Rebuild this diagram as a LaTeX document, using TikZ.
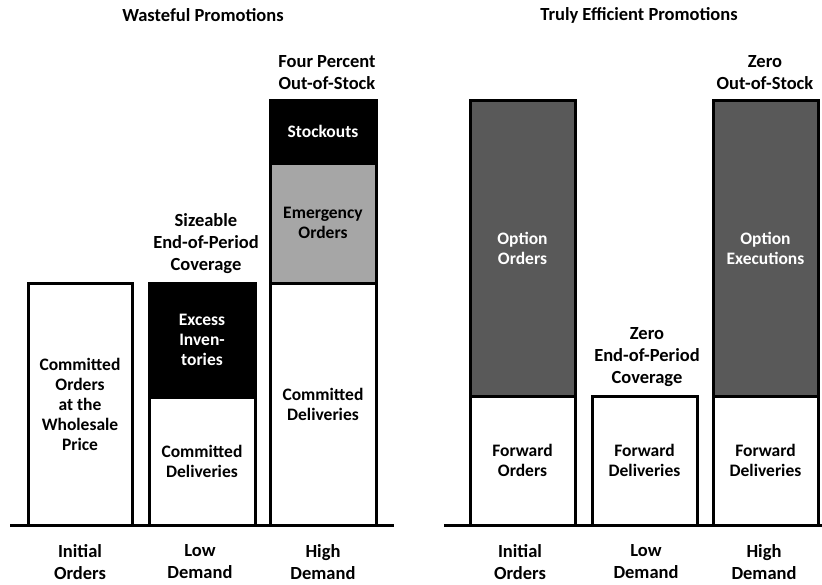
\documentclass[tikz,border=0pt]{standalone}
\usepackage{fontspec}
\setmainfont{Carlito}
\definecolor{midgray}{HTML}{A6A6A6}
\definecolor{darkgray}{HTML}{595959}
\tikzset{
  seg/.style={draw=black, line width=3pt, inner sep=0pt, align=center,
    font=\bfseries\fontsize{17.5}{20}\selectfont},
  whiteseg/.style={seg, fill=white, text=black},
  blackseg/.style={seg, fill=black, text=white},
  grayseg/.style={seg, fill=midgray, text=black},
  darkseg/.style={seg, fill=darkgray, text=white},
  lbl/.style={align=center, inner sep=0pt, font=\bfseries\fontsize{18.5}{22}\selectfont},
  ttl/.style={align=center, inner sep=0pt, font=\bfseries\fontsize{18.5}{22}\selectfont},
  base/.style={line width=3pt}
}
\begin{document}
\begin{tikzpicture}[x=1pt,y=-1pt]
\useasboundingbox (0,0) rectangle (822,584);
% titles
\node[ttl] (t1) at (203,15) {Wasteful Promotions};
\node[ttl] (t2) at (639,15) {Truly Efficient Promotions};
% left panel bars
\node[whiteseg, minimum width=104pt, minimum height=242pt] (l1) at (80,404) {Committed\\Orders\\at the\\Wholesale\\Price};
\node[blackseg, minimum width=106pt, minimum height=114pt] (l2t) at (202,340) {Excess\\Inven-\\tories};
\node[whiteseg, minimum width=106pt, minimum height=128pt] (l2b) at (202,461) {Committed\\Deliveries};
\node[blackseg, minimum width=106pt, minimum height=63pt] (l3t) at (323,131.5) {Stockouts};
\node[grayseg, minimum width=106pt, minimum height=120pt] (l3m) at (323,223) {Emergency\\Orders};
\node[whiteseg, minimum width=106pt, minimum height=242pt] (l3b) at (323,404) {Committed\\Deliveries};
% right panel bars
\node[darkseg, minimum width=105pt, minimum height=296pt] (r1t) at (522.5,248) {Option\\Orders};
\node[whiteseg, minimum width=105pt, minimum height=129pt] (r1b) at (522.5,460.5) {Forward\\Orders};
\node[whiteseg, minimum width=105pt, minimum height=129pt] (r2b) at (644.5,460.5) {Forward\\Deliveries};
\node[darkseg, minimum width=105pt, minimum height=296pt] (r3t) at (765.5,248) {Option\\Executions};
\node[whiteseg, minimum width=105pt, minimum height=129pt] (r3b) at (765.5,460.5) {Forward\\Deliveries};
% baselines
\coordinate (bl0) at (10,525);
\coordinate (bl1) at (394,525);
\coordinate (br0) at (444,525);
\coordinate (br1) at (822,525);
\draw[base] (bl0) -- (bl1);
\draw[base] (br0) -- (br1);
% annotations
\node[lbl] (a1) at (327,73) {Four Percent\\Out-of-Stock};
\node[lbl] (a2) at (206,244) {Sizeable\\End-of-Period\\Coverage};
\node[lbl] (a3) at (765,73) {Zero\\Out-of-Stock};
\node[lbl] (a4) at (647,357) {Zero\\End-of-Period\\Coverage};
% bottom labels
\node[lbl] (b1) at (80,562) {Initial\\Orders};
\node[lbl] (b2) at (200,562) {Low\\Demand};
\node[lbl] (b3) at (323,562) {High\\Demand};
\node[lbl] (b4) at (520,562) {Initial\\Orders};
\node[lbl] (b5) at (646,562) {Low\\Demand};
\node[lbl] (b6) at (764,562) {High\\Demand};
\end{tikzpicture}
\end{document}
